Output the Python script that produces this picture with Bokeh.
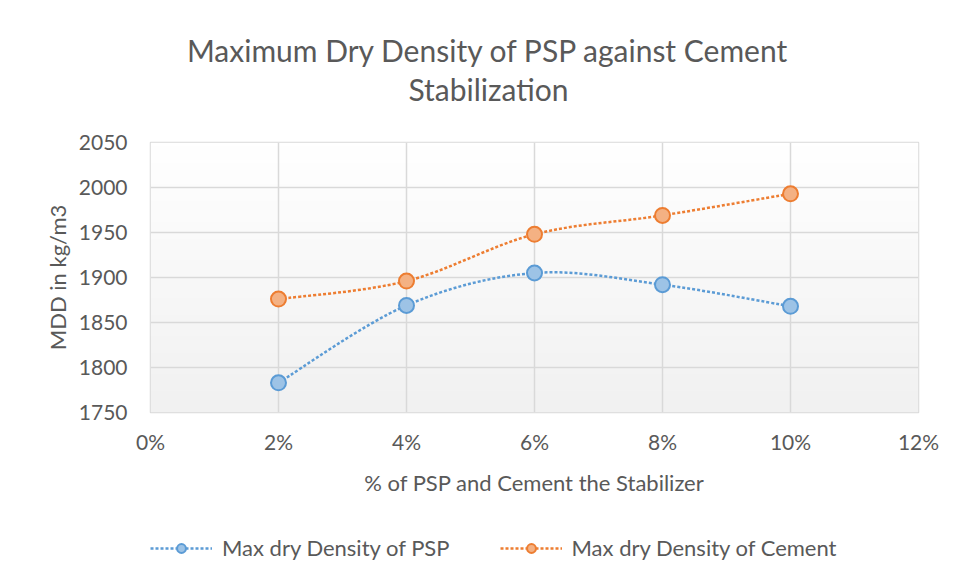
import numpy as np
from bokeh.plotting import figure
from bokeh.layouts import column
from bokeh.models import (Legend, LegendItem, NumeralTickFormatter,
                          FixedTicker, Range1d, Label)
from bokeh.embed import file_html
from bokeh.resources import INLINE

# ---- data ----
stabilizer_pct = [0.02, 0.04, 0.06, 0.08, 0.10]
mdd_psp = [1783, 1869, 1905, 1892, 1868]
mdd_cement = [1876, 1896, 1948, 1969, 1993]
x_ticks = [0.0, 0.02, 0.04, 0.06, 0.08, 0.10, 0.12]
y_ticks = [1750, 1800, 1850, 1900, 1950, 2000, 2050]
title_lines = ["Maximum Dry Density of PSP against Cement", "Stabilization"]
series_names = ["Max dry Density of PSP", "Max dry Density of Cement"]
series_colors = ["#5b9bd5", "#ed7d31"]
series_fills = ["#9dc3e6", "#f4b183"]

TXT = "#595959"
GRID = "#d9d9d9"
FONT = "Lato"
LEFT, RIGHT, FW = 150, 31, 768


def blank_fig(h):
    f = figure(frame_width=FW, frame_height=h, output_backend="svg",
               toolbar_location=None, x_range=Range1d(0, FW), y_range=Range1d(0, h),
               x_axis_location=None, y_axis_location=None,
               min_border_left=LEFT, min_border_right=RIGHT,
               min_border_top=0, min_border_bottom=0)
    f.grid.visible = False
    f.outline_line_color = None
    f.background_fill_color = "white"
    f.border_fill_color = "white"
    return f


# ---------- title ----------
TH = 122
tf = blank_fig(TH)
for txt, yc in zip(title_lines, [49, 88]):
    tf.add_layout(Label(x=338, y=TH - yc, text=txt, x_units="screen", y_units="screen",
                        text_align="center", text_baseline="middle",
                        text_font=FONT, text_font_size="30px", text_color=TXT))

# ---------- main plot ----------
p = figure(frame_width=FW, frame_height=270, output_backend="svg",
           toolbar_location=None,
           x_range=Range1d(0, 0.12), y_range=Range1d(1750, 2050),
           min_border_left=LEFT, min_border_right=RIGHT, min_border_top=20,
           min_border_bottom=88)
p.background_fill_color = "white"
p.border_fill_color = "white"
p.outline_line_color = GRID
p.outline_line_width = 1.5

# frame gradient (white top -> light grey bottom)
n = 64
vals = np.linspace(241, 255, n).astype(np.uint32)
img = np.zeros((n, 1), dtype=np.uint32)
view = img.view(dtype=np.uint8).reshape((n, 1, 4))
view[:, 0, 0] = vals
view[:, 0, 1] = vals
view[:, 0, 2] = vals
view[:, 0, 3] = 255
p.image_rgba(image=[img], x=0, y=1750, dw=0.12, dh=300, level="image")

for ax in (p.xaxis[0], p.yaxis[0]):
    ax.axis_line_color = None
    ax.major_tick_line_color = None
    ax.minor_tick_line_color = None
    ax.major_label_text_color = TXT
    ax.major_label_text_font = FONT
    ax.major_label_text_font_size = "21px"
    ax.axis_label_text_color = TXT
    ax.axis_label_text_font = FONT
    ax.axis_label_text_font_size = "22px"
    ax.axis_label_text_font_style = "normal"

p.xaxis.ticker = FixedTicker(ticks=x_ticks)
p.yaxis.ticker = FixedTicker(ticks=y_ticks)
p.xaxis.formatter = NumeralTickFormatter(format="0%")
p.xaxis.major_label_standoff = 10
p.yaxis.major_label_standoff = 17
p.xaxis.axis_label = "% of PSP and Cement the Stabilizer"
p.yaxis.axis_label = "MDD in kg/m3"
p.xaxis.axis_label_standoff = 12
p.yaxis.axis_label_standoff = 5

p.xgrid.grid_line_color = GRID
p.ygrid.grid_line_color = GRID
p.xgrid.grid_line_width = 1.5
p.ygrid.grid_line_width = 1.5


def smooth_segments(xs, ys):
    xs = np.asarray(xs, float)
    ys = np.asarray(ys, float)
    px = np.concatenate([[xs[0]], xs, [xs[-1]]])
    py = np.concatenate([[ys[0]], ys, [ys[-1]]])
    x0, y0 = xs[:-1], ys[:-1]
    x1, y1 = xs[1:], ys[1:]
    cx0 = px[1:-2] + (px[2:-1] - px[0:-3]) / 6.0
    cy0 = py[1:-2] + (py[2:-1] - py[0:-3]) / 6.0
    cx1 = px[2:-1] - (px[3:] - px[1:-2]) / 6.0
    cy1 = py[2:-1] - (py[3:] - py[1:-2]) / 6.0
    return dict(x0=x0, y0=y0, x1=x1, y1=y1, cx0=cx0, cy0=cy0, cx1=cx1, cy1=cy1)


for ys, col, fill in zip([mdd_psp, mdd_cement], series_colors, series_fills):
    p.bezier(line_color=col, line_width=2.5, line_dash="3 2",
             **smooth_segments(stabilizer_pct, ys))
    p.scatter(stabilizer_pct, ys, size=15, marker="circle", fill_color=fill,
              line_color=col, line_width=2)

# ---------- legend ----------
LH = 80
lf = blank_fig(LH)
items = []
for name, col, fill in zip(series_names, series_colors, series_fills):
    ll = lf.line(x=[-50], y=[-50], line_color=col, line_width=2.5, line_dash="3 2")
    ls = lf.scatter(x=[-50], y=[-50], size=15, marker="circle", fill_color=fill,
                    line_color=col, line_width=2)
    items.append(LegendItem(label=name, renderers=[ll, ls]))
legend = Legend(items=items, orientation="horizontal", location=(0, 19),
                label_text_font=FONT, label_text_font_size="22px",
                label_text_color=TXT, glyph_width=62, glyph_height=22,
                label_standoff=10, spacing=50, border_line_color=None,
                background_fill_alpha=0, margin=0, padding=0)
lf.add_layout(legend, "center")

layout = column(tf, p, lf, spacing=0)
open("out.html", "w").write(file_html(layout, INLINE))
